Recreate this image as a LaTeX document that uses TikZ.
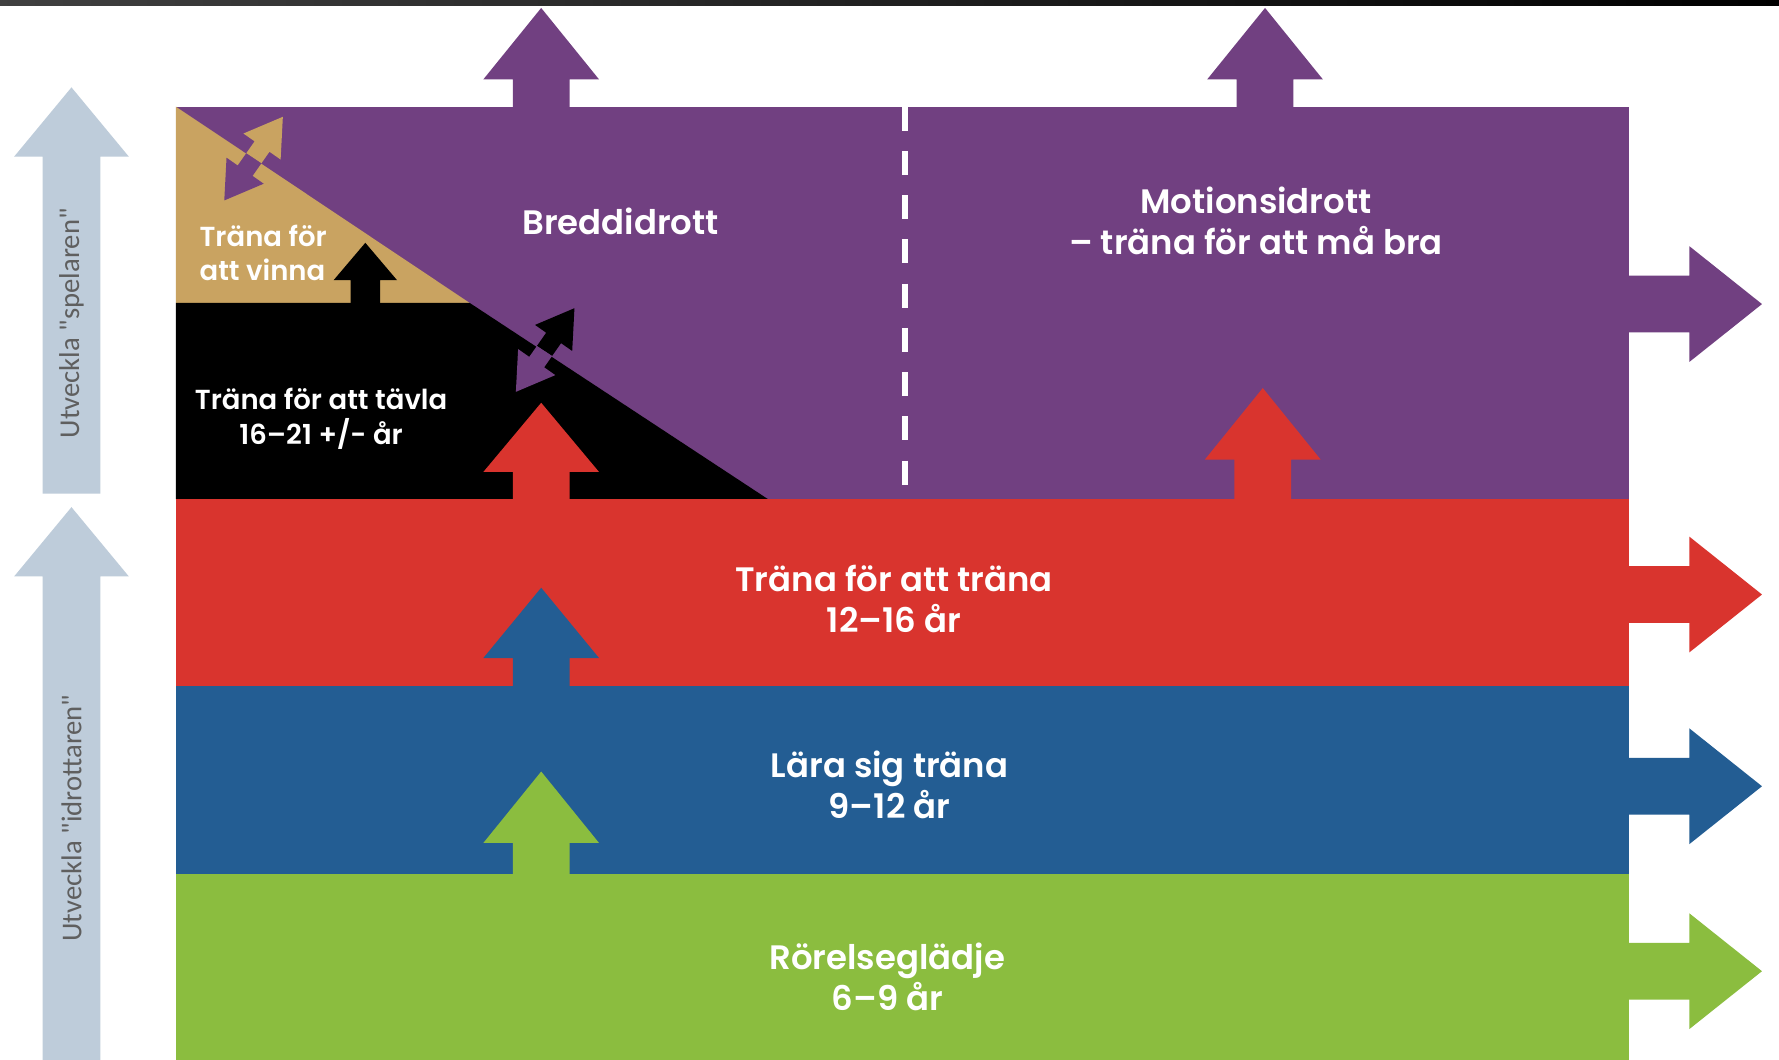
\documentclass[tikz,border=0pt]{standalone}
\usepackage{fontspec}
\usepackage{xcolor}
\usepackage{tikz}
\newfontfamily\bandfont{Poppins SemiBold}
\newfontfamily\sidefont{Carlito}
\definecolor{purp}{RGB}{113,64,129}
\definecolor{gold}{RGB}{201,163,97}
\definecolor{redband}{RGB}{217,52,46}
\definecolor{blueband}{RGB}{35,93,147}
\definecolor{greenband}{RGB}{139,189,63}
\definecolor{palearrow}{RGB}{190,204,218}
\definecolor{sidegray}{RGB}{95,95,95}
\tikzstyle{bandtext} = [text=white, align=center, inner sep=0pt, font=\bandfont\fontsize{8.5}{10.3}\selectfont]
\tikzstyle{smalltext} = [text=white, align=center, inner sep=0pt, font=\bandfont\fontsize{6.9}{8.6}\selectfont]
\tikzstyle{sidetext} = [text=sidegray, rotate=90, inner sep=0pt, font=\sidefont\fontsize{7.2}{8}\selectfont]
\tikzstyle{dashline} = [white, line width=1.5pt, dash pattern=on 6pt off 5.1pt]
% block arrows: colour, x, bottom, head base, tip, half shaft, half head
\newcommand{\upblock}[7]{\fill[#1] ({#2-#6},#3) -- ({#2-#6},#4) -- ({#2-#7},#4) -- (#2,#5) -- ({#2+#7},#4) -- ({#2+#6},#4) -- ({#2+#6},#3) -- cycle;}
\newcommand{\rightblock}[2]{\fill[#1] (1430,{#2-25}) -- (1489,{#2-25}) -- (1489,{#2-51}) -- (1553,#2) -- (1489,{#2+51}) -- (1489,{#2+25}) -- (1430,{#2+25}) -- cycle;}
\newcommand{\diagblock}[3]{\fill[#1, shift={(#2,#3)}, rotate=55] (45,0) -- (13,20) -- (13,8) -- (-13,8) -- (-13,20) -- (-45,0) -- (-13,-20) -- (-13,-8) -- (13,-8) -- (13,-20) -- cycle;}

\begin{document}
\begin{tikzpicture}[x=0.1mm, y=-0.1mm]
      \useasboundingbox (0,0) rectangle (1568,934);
      \fill[white] (0,0) rectangle (1568,934);
      \fill[left color=black!75, right color=black] (0,0) rectangle (1568,5);

      % Bands
      \fill[purp] (155,94) rectangle (1436,440);
      \fill[gold] (155,94) -- (414,267) -- (155,267) -- cycle;
      \fill[black] (155,267) -- (414,267) -- (677,440) -- (155,440) -- cycle;
      \fill[redband] (155,440) rectangle (1436,605);
      \fill[blueband] (155,605) rectangle (1436,770);
      \fill[greenband] (155,770) rectangle (1436,934);

      % Dashed divider
      \draw[dashline] (798,94) -- (798,430);

      % Arrows out of the top
      \upblock{purp}{477}{100}{70}{7}{25}{51}
      \upblock{purp}{1115}{100}{70}{7}{25}{51}

      % Arrows out of the right side
      \rightblock{purp}{268}
      \rightblock{redband}{524}
      \rightblock{blueband}{693}
      \rightblock{greenband}{856}

      % Arrows between the steps
      \upblock{redband}{477}{445}{416}{355}{25}{51}
      \upblock{redband}{1113}{445}{405}{342}{25}{51}
      \upblock{blueband}{477}{610}{580}{518}{25}{51}
      \upblock{greenband}{477}{775}{743}{680}{25}{51}
      \upblock{black}{322}{270}{247}{214}{13}{28}

      % Crossing arrows on the diagonal
      \begin{scope}
        \clip (0,-8.7) -- (800,521.5) -- (800,-100) -- (0,-100) -- cycle;
        \diagblock{gold}{223.5}{139.8}
        \diagblock{black}{480.5}{308.5}
      \end{scope}
      \begin{scope}
        \clip (0,-8.7) -- (800,521.5) -- (0,521.5) -- cycle;
        \diagblock{purp}{223.5}{139.8}
        \diagblock{purp}{480.5}{308.5}
      \end{scope}

      % Labels
      \node[bandtext] (bredd) at (547,195) {Breddidrott};
      \node[bandtext] (motion) at (1107,195) {Motionsidrott\\– träna för att må bra};
      \node[smalltext, align=left] (vinna) at (232,223) {Träna för\\att vinna};
      \node[smalltext] (tavla) at (283,369) {Träna för att tävla\\16–21 +/- år};
      \node[bandtext] (trana) at (788,528) {Träna för att träna\\12–16 år};
      \node[bandtext] (lara) at (784,692) {Lära sig träna\\9–12 år};
      \node[bandtext] (rorelse) at (782,861) {Rörelseglädje\\6–9 år};

      % Side arrows
      \upblock{palearrow}{63}{435}{138}{77}{25.5}{50.5}
      \upblock{palearrow}{63}{940}{508}{447}{25.5}{50.5}
      \node[sidetext] (spelaren) at (63,285) {Utveckla "spelaren"};
      \node[sidetext] (idrottaren) at (63,721) {Utveckla "idrottaren"};
    \end{tikzpicture}
\end{document}
